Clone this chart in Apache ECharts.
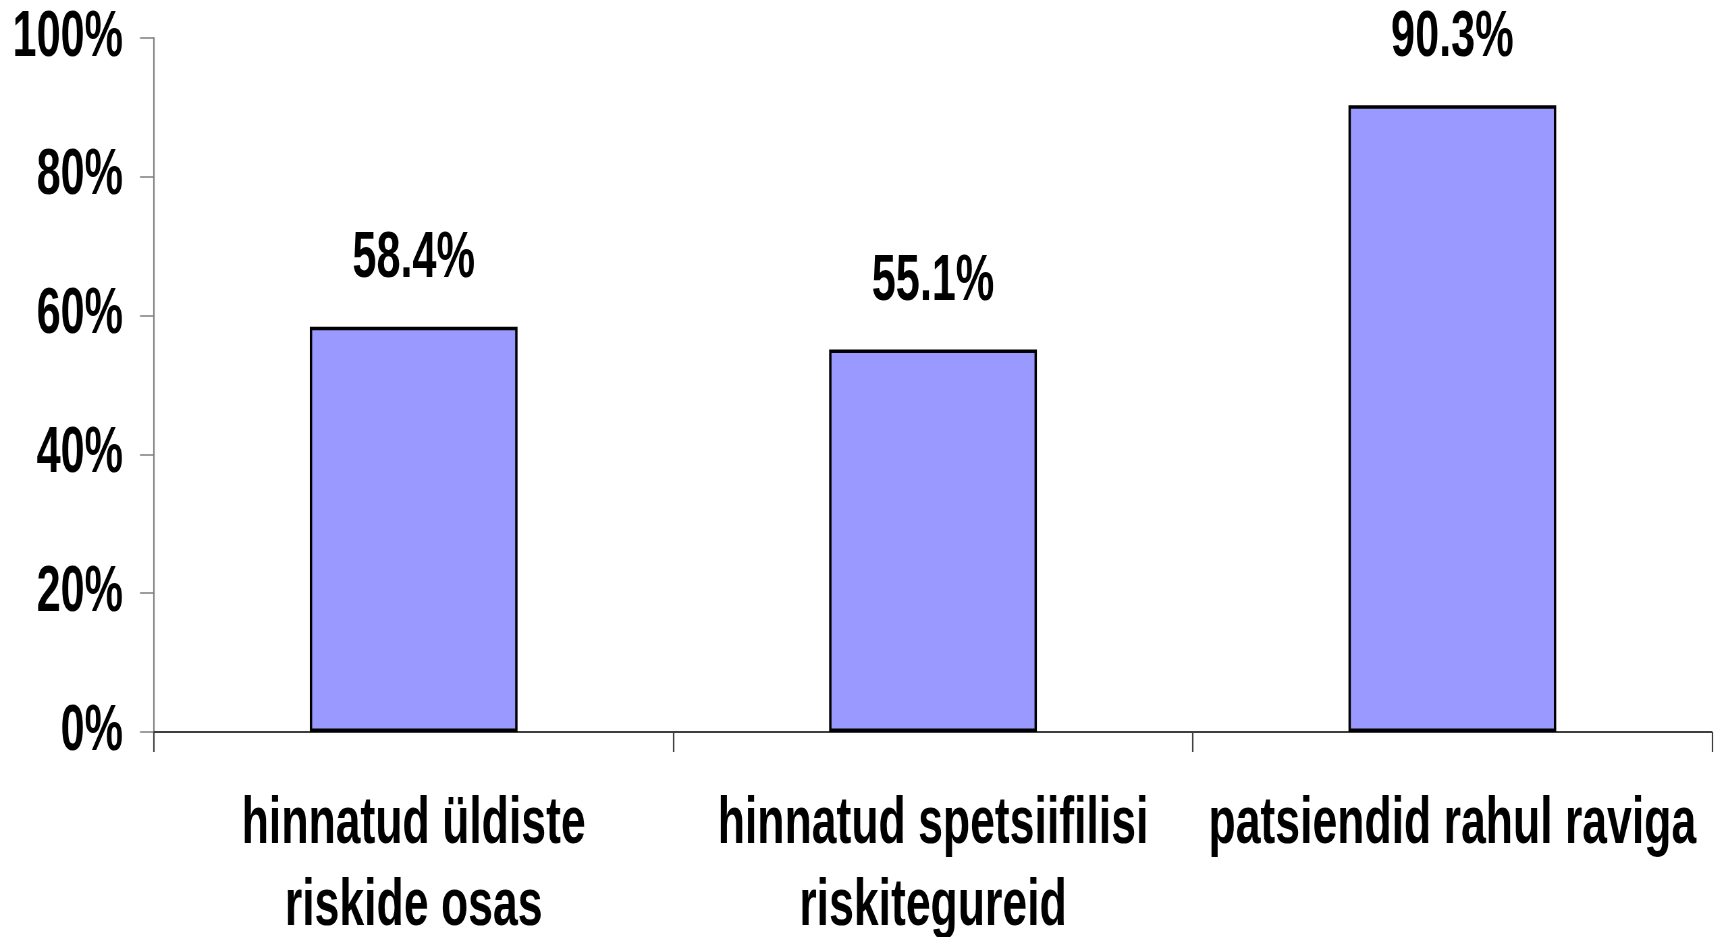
<!DOCTYPE html>
<html>
<head>
<meta charset="utf-8">
<script src="https://cdn.jsdelivr.net/npm/echarts@6/dist/echarts.min.js"></script>
<style>
  html, body { margin: 0; padding: 0; background: #fff; overflow: hidden; }
  #wrap { width: 1718px; height: 937px; overflow: hidden; }
  /* The chart is laid out wider and squeezed horizontally so the bold
     sans-serif labels get the tall, condensed look of a narrow typeface. */
  #chart { height: 937px; transform-origin: 0 0; }
</style>
</head>
<body>
<div id="wrap"><div id="chart"></div></div>
<script>
// Category names (two-line labels where the text wraps)
const categories = [
  'hinnatud üldiste\nriskide osas',
  'hinnatud spetsiifilisi\nriskitegureid',
  'patsiendid rahul raviga'
];
// Share of respondents, in percent
const shares = [58.4, 55.1, 90.3];
// Value axis range and step, in percent
const yMin = 0;
const yMax = 100;
const yStep = 20;

// Horizontal squeeze factor; x-direction sizes are given in screen pixels and divided by it
const K = 0.675;
const W = 1718;
const H = 937;
const sx = v => v / K;

const FONT = "'Liberation Sans', Arial, 'DejaVu Sans', sans-serif";
const FS = 64;

const el = document.getElementById('chart');
el.style.width = sx(W) + 'px';
el.style.transform = 'scaleX(' + K + ')';

const chart = echarts.init(el, null, { renderer: 'canvas', width: sx(W), height: H });

chart.setOption({
  backgroundColor: '#ffffff',
  animation: false,
  grid: {
    left: sx(154), right: sx(6), top: 38, bottom: 205,
    containLabel: false,
    outerBoundsMode: 'none'
  },
  xAxis: {
    type: 'category',
    data: categories,
    boundaryGap: true,
    axisLine: { show: true, lineStyle: { color: '#000000', width: 1.5 } },
    axisTick: { show: true, length: 20, alignWithLabel: false, lineStyle: { color: '#404040', width: 2.2 } },
    axisLabel: {
      interval: 0,
      margin: 51.5,
      color: '#000000',
      fontFamily: FONT,
      fontWeight: 'bold',
      fontSize: 66,
      lineHeight: 82
    },
    splitLine: { show: false }
  },
  yAxis: {
    type: 'value',
    min: yMin,
    max: yMax,
    interval: yStep,
    axisLine: { show: true, lineStyle: { color: '#7f7f7f', width: 2.2 } },
    axisTick: { show: true, length: sx(14), lineStyle: { color: '#7f7f7f', width: 1.5 } },
    axisLabel: {
      margin: sx(31),
      formatter: '{value}%',
      color: '#000000',
      fontFamily: FONT,
      fontWeight: 'bold',
      fontSize: FS,
      lineHeight: FS
    },
    splitLine: { show: false }
  },
  series: [{
    type: 'bar',
    data: shares,
    barWidth: '40%',
    itemStyle: { color: '#9999ff', borderColor: '#000000', borderWidth: 3.5 },
    label: {
      show: true,
      position: 'top',
      distance: 35,
      formatter: '{c}%',
      color: '#000000',
      fontFamily: FONT,
      fontWeight: 'bold',
      fontSize: FS,
      lineHeight: FS
    }
  }]
});
</script>
</body>
</html>
